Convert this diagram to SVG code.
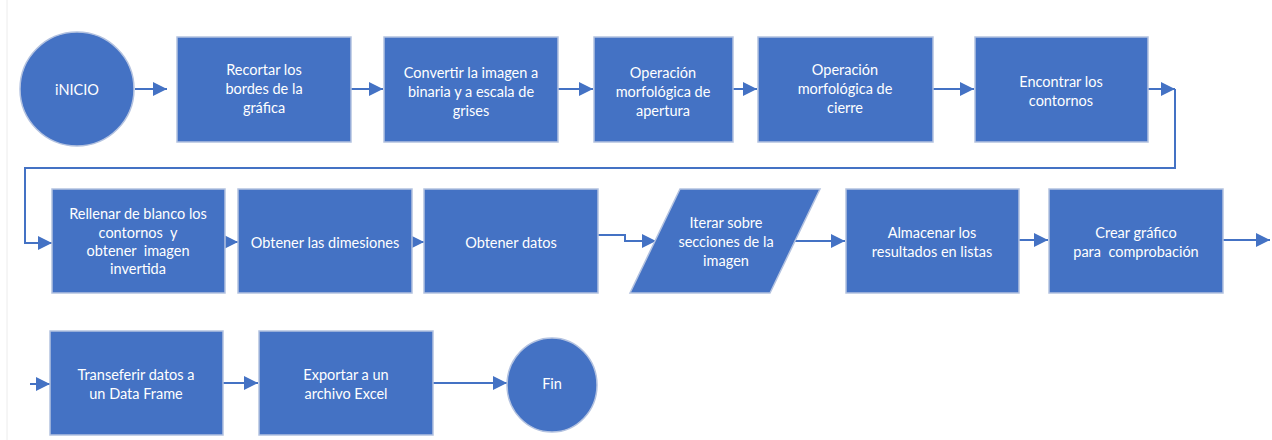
<svg xmlns="http://www.w3.org/2000/svg" width="1272" height="440" viewBox="0 0 1272 440">
<style>
.n{fill:#4472C4;stroke:#b3c2e0;stroke-width:1.5}
.t{font-family:Lato,"Liberation Sans",sans-serif;font-size:14.5px;fill:#ffffff;text-anchor:middle;dominant-baseline:central;white-space:pre}
.c{fill:none;stroke:#4472C4;stroke-width:2}
</style>
<defs>
<marker id="ah" markerUnits="userSpaceOnUse" markerWidth="14" markerHeight="14" refX="14" refY="7" orient="auto">
<path d="M0,0 L14,7 L0,14 Z" fill="#4472C4"/>
</marker>
</defs>
<rect width="1272" height="440" fill="#ffffff"/>
<line x1="7" y1="0" x2="7" y2="440" stroke="#ececec" stroke-width="1"/>
<g id="connectors">
<path class="c" d="M135,89 H167" marker-end="url(#ah)"/>
<path class="c" d="M351,89 H383" marker-end="url(#ah)"/>
<path class="c" d="M558,89 H593" marker-end="url(#ah)"/>
<path class="c" d="M733,89 H757" marker-end="url(#ah)"/>
<path class="c" d="M933,89 H974" marker-end="url(#ah)"/>
<path class="c" d="M1148,89 H1175" marker-end="url(#ah)"/>
<path class="c" d="M1175,89 V168 H25 V243 H52" marker-end="url(#ah)"/>
<path class="c" d="M225,242 H238" marker-end="url(#ah)"/>
<path class="c" d="M412,242 H424" marker-end="url(#ah)"/>
<path class="c" d="M598,235 H625 V241 H656" marker-end="url(#ah)"/>
<path class="c" d="M795,241 H845" marker-end="url(#ah)"/>
<path class="c" d="M1019,240 H1048" marker-end="url(#ah)"/>
<path class="c" d="M1223,240 H1270" marker-end="url(#ah)"/>
<path class="c" d="M30,384 H50" marker-end="url(#ah)"/>
<path class="c" d="M223,383 H258" marker-end="url(#ah)"/>
<path class="c" d="M433,383 H507" marker-end="url(#ah)"/>
</g>
<g id="inicio">
<ellipse class="n" cx="77" cy="89" rx="57" ry="57"/>
<text class="t" x="77" y="89">iNICIO</text>
</g>
<g id="recortar">
<rect class="n" x="177" y="37" width="174" height="105"/>
<text class="t" x="264" y="69">Recortar los</text>
<text class="t" x="264" y="88">bordes de la</text>
<text class="t" x="264" y="107">gráfica</text>
</g>
<g id="convertir">
<rect class="n" x="384" y="37" width="174" height="105"/>
<text class="t" x="471" y="72">Convertir la imagen a</text>
<text class="t" x="471" y="91">binaria y a escala de</text>
<text class="t" x="471" y="110">grises</text>
</g>
<g id="apertura">
<rect class="n" x="594" y="37" width="139" height="105"/>
<text class="t" x="663" y="72">Operación</text>
<text class="t" x="663" y="91">morfológica de</text>
<text class="t" x="663" y="110">apertura</text>
</g>
<g id="cierre">
<rect class="n" x="758" y="37" width="175" height="105"/>
<text class="t" x="845" y="69">Operación</text>
<text class="t" x="845" y="88">morfológica de</text>
<text class="t" x="845" y="107">cierre</text>
</g>
<g id="contornos">
<rect class="n" x="975" y="37" width="173" height="105"/>
<text class="t" x="1061" y="81">Encontrar los</text>
<text class="t" x="1061" y="100">contornos</text>
</g>
<g id="rellenar">
<rect class="n" x="52" y="189" width="173" height="104"/>
<text class="t" x="138" y="213">Rellenar de blanco los</text>
<text class="t" x="138" y="232">contornos  y</text>
<text class="t" x="138" y="250">obtener  imagen</text>
<text class="t" x="138" y="268">invertida</text>
</g>
<g id="dimensiones">
<rect class="n" x="238" y="189" width="174" height="104"/>
<text class="t" x="325" y="242">Obtener las dimesiones</text>
</g>
<g id="datos">
<rect class="n" x="424" y="189" width="174" height="104"/>
<text class="t" x="511" y="242">Obtener datos</text>
</g>
<g id="iterar">
<polygon class="n" points="680,189 820,189 770,293 630,293"/>
<text class="t" x="726" y="222">Iterar sobre</text>
<text class="t" x="726" y="241">secciones de la</text>
<text class="t" x="726" y="260">imagen</text>
</g>
<g id="almacenar">
<rect class="n" x="846" y="189" width="173" height="104"/>
<text class="t" x="932" y="232">Almacenar los</text>
<text class="t" x="932" y="251">resultados en listas</text>
</g>
<g id="grafico">
<rect class="n" x="1049" y="189" width="174" height="104"/>
<text class="t" x="1136" y="232">Crear gráfico</text>
<text class="t" x="1136" y="251">para  comprobación</text>
</g>
<g id="transferir">
<rect class="n" x="50" y="331" width="173" height="104"/>
<text class="t" x="136" y="374">Transeferir datos a</text>
<text class="t" x="136" y="393">un Data Frame</text>
</g>
<g id="exportar">
<rect class="n" x="259" y="331" width="174" height="104"/>
<text class="t" x="346" y="374">Exportar a un</text>
<text class="t" x="346" y="393">archivo Excel</text>
</g>
<g id="fin">
<ellipse class="n" cx="552" cy="385" rx="45" ry="47"/>
<text class="t" x="552" y="383">Fin</text>
</g>
</svg>
